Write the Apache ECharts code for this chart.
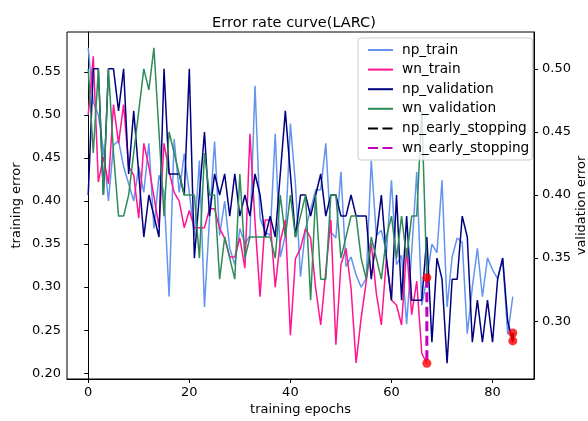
<!DOCTYPE html>
<html><head><meta charset="utf-8">
<script src="https://cdn.jsdelivr.net/npm/echarts@6/dist/echarts.min.js"></script>
<style>html,body{margin:0;padding:0;background:#fff}#c{width:588px;height:421px}</style>
</head><body><div id="c"></div>
<script>
const epochs = [0,1,2,3,4,5,6,7,8,9,10,11,12,13,14,15,16,17,18,19,20,21,22,23,24,25,26,27,28,29,30,31,32,33,34,35,36,37,38,39,40,41,42,43,44,45,46,47,48,49,50,51,52,53,54,55,56,57,58,59,60,61,62,63,64,65,66,67,68,69,70,71,72,73,74,75,76,77,78,79,80,81,82,83,84];

const npTrain = [0.578,0.515,0.50,0.46,0.40,0.465,0.47,0.44,0.42,0.40,
  0.44,0.41,0.467,0.368,0.43,0.41,0.289,0.472,0.41,0.455,
  0.41,0.36,0.447,0.277,0.38,0.469,0.36,0.40,0.345,0.326,
  0.368,0.35,0.36,0.534,0.38,0.364,0.36,0.478,0.335,0.36,
  0.49,0.42,0.312,0.368,0.39,0.413,0.413,0.467,0.364,0.357,
  0.434,0.324,0.335,0.314,0.30,0.31,0.447,0.36,0.366,0.34,
  0.424,0.326,0.337,0.257,0.341,0.434,0.279,0.31,0.35,0.34,
  0.424,0.277,0.335,0.357,0.352,0.246,0.30,0.345,0.289,0.334,
  0.32,0.31,0.334,0.245,0.289];

const wnTrain = [0.50,0.568,0.422,0.451,0.42,0.512,0.467,0.512,0.44,0.43,
  0.38,0.467,0.44,0.405,0.37,0.467,0.434,0.41,0.40,0.369,
  0.389,0.369,0.369,0.369,0.391,0.391,0.368,0.357,0.335,0.335,
  0.357,0.322,0.478,0.376,0.289,0.378,0.378,0.30,0.353,0.378,
  0.244,0.333,0.345,0.368,0.357,0.299,0.256,0.318,0.378,0.233,
  0.326,0.345,0.299,0.212,0.264,0.306,0.351,0.293,0.256,0.333,
  0.285,0.279,0.256,0.345,0.268,0.307,0.223,0.2116];

const npVal = [0.4,0.5,0.5,0.4,0.5,0.5,0.4667,0.5,0.4167,0.4667,
  0.4167,0.3667,0.4,0.3833,0.3667,0.5,0.4167,0.4167,0.4167,0.4,
  0.5,0.35,0.4,0.45,0.3833,0.4167,0.4,0.4167,0.3833,0.4167,
  0.3833,0.4,0.3833,0.4167,0.4,0.3667,0.3833,0.3667,0.4167,0.4667,
  0.4167,0.3667,0.4,0.4,0.3833,0.4,0.4167,0.3833,0.4,0.4,
  0.3833,0.3833,0.4,0.3833,0.3833,0.3833,0.3333,0.3667,0.4,0.35,
  0.3167,0.4,0.3167,0.3833,0.3167,0.3167,0.3167,0.3667,0.2833,0.35,
  0.3333,0.2667,0.3333,0.3333,0.3833,0.3667,0.2833,0.3167,0.2833,0.3167,
  0.2833,0.3333,0.35,0.3,0.2833];

const wnVal = [0.5,0.4333,0.5,0.4,0.5,0.4333,0.3833,0.3833,0.4,0.4333,
  0.4667,0.5,0.4833,0.5167,0.45,0.3833,0.45,0.4333,0.4167,0.4,
  0.4,0.4,0.35,0.4333,0.4,0.4,0.3333,0.3667,0.35,0.3333,
  0.4167,0.35,0.3667,0.3667,0.3667,0.3667,0.3667,0.35,0.4,0.3667,
  0.4,0.3667,0.3833,0.4,0.3167,0.4,0.3333,0.3333,0.4,0.4,
  0.35,0.3667,0.3833,0.3833,0.35,0.3333,0.3667,0.35,0.3333,0.3667,
  0.3833,0.35,0.3833,0.35,0.3833,0.3833,0.4667,0.3333];

const npStopEpoch = 84;
const npStopVals = [0.2467, 0.2375];
const wnStopEpoch = 67;
const wnStopVals = [0.311, 0.2116];

const xTicks = [0,20,40,60,80];
const leftTicks = [0.20,0.25,0.30,0.35,0.40,0.45,0.50,0.55];
const rightTicks = [0.30,0.35,0.40,0.45,0.50];

function pairs(vals){ return vals.map((v,i)=>[epochs[i], v]); }
function lim(arrs){
  const all = [].concat(...arrs);
  const mn = Math.min(...all), mx = Math.max(...all), m = (mx-mn)*0.05;
  return [mn-m, mx+m];
}
const xLim = lim([epochs]);
const lLim = lim([npTrain, wnTrain, npStopVals, wnStopVals]);
const rLim = lim([npVal, wnVal]);

const FONT = 'DejaVu Sans';
const chart = echarts.init(document.getElementById('c'), null, {renderer:'canvas'});
const lineS = (name, data, color, yi, z) => ({
  name, type:'line', data, yAxisIndex: yi, symbol:'none', showSymbol:false,
  lineStyle:{color, width:1.5}, itemStyle:{color}, z, animation:false
});
chart.setOption({
  animation:false,
  backgroundColor:'#fff',
  title:{text:'Error rate curve(LARC)', left:'center', top:11,
    textStyle:{fontFamily:FONT, fontSize:14.5, fontWeight:'normal', color:'#000'}},
  grid:{left:67, right:54, top:32, bottom:42, containLabel:false, outerBoundsMode:'none',
    show:true, borderColor:'#000', borderWidth:1, backgroundColor:'transparent'},
  legend:{
    orient:'vertical', left:358, top:38,
    data:['np_train','wn_train','np_validation','wn_validation','np_early_stopping','wn_early_stopping'],
    itemWidth:25, itemHeight:12, itemGap:5.6,
    padding:[5,3,5,9],
    itemStyle:{opacity:0},
    backgroundColor:'rgba(255,255,255,0.8)', borderColor:'#ccc', borderWidth:1, borderRadius:3,
    textStyle:{fontFamily:FONT, fontSize:13.7, color:'#000', padding:[0,0,0,4]}
  },
  xAxis:{type:'value', min:xLim[0], max:xLim[1],
    name:'training epochs', nameLocation:'middle', nameGap:24, nameMoveOverlap:false,
    nameTextStyle:{fontFamily:FONT, fontSize:13, color:'#000'},
    axisLine:{show:true, onZero:false, lineStyle:{color:'#000'}},
    axisTick:{show:true, length:4, customValues:xTicks, lineStyle:{color:'#000'}},
    axisLabel:{customValues:xTicks, fontFamily:FONT, fontSize:13, color:'#000', margin:7},
    splitLine:{show:false}},
  yAxis:[
    {type:'value', position:'left', min:lLim[0], max:lLim[1],
     name:'training error', nameLocation:'middle', nameGap:44, nameMoveOverlap:false,
     nameTextStyle:{fontFamily:FONT, fontSize:13, color:'#000'},
     axisLine:{show:true, lineStyle:{color:'#000'}},
     axisTick:{show:true, length:4, customValues:leftTicks, lineStyle:{color:'#000'}},
     axisLabel:{customValues:leftTicks, formatter:v=>v.toFixed(2), fontFamily:FONT, fontSize:13, color:'#000', margin:6},
     splitLine:{show:false}},
    {type:'value', position:'right', min:rLim[0], max:rLim[1],
     name:'validation error', nameLocation:'middle', nameGap:41, nameRotate:90, nameMoveOverlap:false,
     nameTextStyle:{fontFamily:FONT, fontSize:13, color:'#000'},
     axisLine:{show:true, lineStyle:{color:'#000'}},
     axisTick:{show:true, length:4, customValues:rightTicks, lineStyle:{color:'#000'}},
     axisLabel:{customValues:rightTicks, formatter:v=>v.toFixed(2), fontFamily:FONT, fontSize:13, color:'#000', margin:8},
     splitLine:{show:false}}
  ],
  series:[
    lineS('np_train', pairs(npTrain), '#6495ED', 0, 2),
    lineS('wn_train', pairs(wnTrain), '#FF1493', 0, 2),
    lineS('np_validation', pairs(npVal), '#000080', 1, 3),
    lineS('wn_validation', pairs(wnVal), '#2E8B57', 1, 3),
    {name:'np_early_stopping', type:'line', yAxisIndex:0, symbol:'none', z:4,
     data:npStopVals.map(v=>[npStopEpoch, v]),
     lineStyle:{color:'#000', width:3, type:[10,4.5]}, itemStyle:{color:'#000'}},
    {name:'wn_early_stopping', type:'line', yAxisIndex:0, symbol:'none', z:4,
     data:wnStopVals.map(v=>[wnStopEpoch, v]),
     lineStyle:{color:'#BF00BF', width:3, type:[10,4.5]}, itemStyle:{color:'#BF00BF'}},
    {name:'stops', type:'scatter', yAxisIndex:0, symbolSize:9, z:5,
     itemStyle:{color:'#FF0000'},
     data:npStopVals.map(v=>[npStopEpoch, v]).concat(wnStopVals.map(v=>[wnStopEpoch, v]))}
  ]
});
</script>
</body></html>
